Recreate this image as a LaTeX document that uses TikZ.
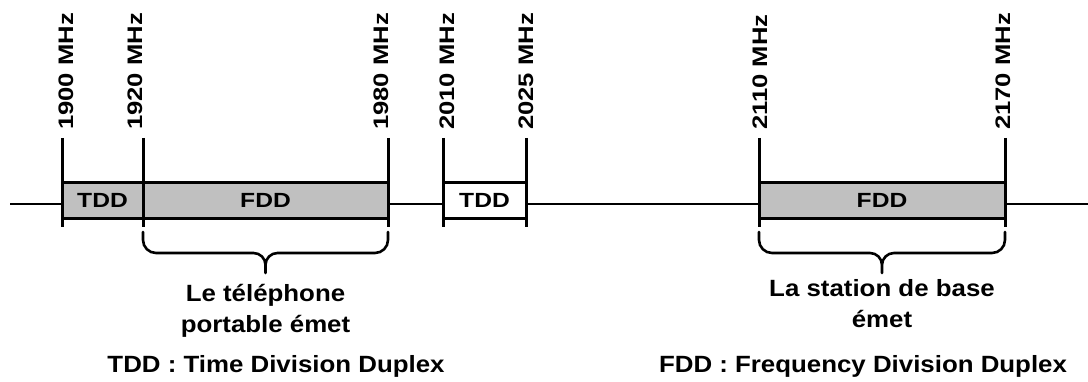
\documentclass[tikz,border=0pt]{standalone}
\usepackage{fontspec}
\newfontfamily\bandfont{Liberation Sans}[FakeStretch=1.1]
\newfontfamily\boxfont{Liberation Sans}[FakeStretch=1.2]
\newfontfamily\freqfont{Liberation Sans}[FakeStretch=1.22]
\usetikzlibrary{calc}
\definecolor{ink}{HTML}{000000}
\definecolor{bandgray}{HTML}{C0C0C0}

\begin{document}
\begin{tikzpicture}[x=1pt, y=1pt,
  band/.style={draw=ink, line width=3pt, inner sep=0, minimum height=36pt,
    font={\boxfont\bfseries\fontsize{20.5}{22}\selectfont}},
  freq/.style={anchor=west, rotate=90, inner sep=0,
    font={\freqfont\bfseries\fontsize{21}{22}\selectfont}},
  tick/.style={draw=ink, line width=3pt},
  brace/.style={draw=ink, line width=2.6pt, line cap=round, line join=round},
  note/.style={align=center, inner sep=0,
    font={\bandfont\bfseries\fontsize{23.5}{31}\selectfont}}]

\def\ly{177}     % y of the frequency axis
\def\by{181}     % centre of the band boxes
\def\tickt{243}  % tick tops
\def\tickb{154}  % tick bottoms
\def\laby{251}   % foot of the rotated labels

\useasboundingbox (0,0) rectangle (1088,381);

% ---- axis
\coordinate (axl) at (10,\ly);
\coordinate (axr) at (1088,\ly);
\draw[ink, line width=2pt] (axl) -- (axr);

% ---- bands
\foreach \xa/\xb/\name/\lbl/\fc in {%
  62/143/tdda/TDD/bandgray,
  143/388/fdda/FDD/bandgray,
  443/526/tddb/TDD/white,
  759/1005/fddb/FDD/bandgray%
}{
  \pgfmathsetmacro{\xm}{(\xa+\xb)/2}
  \pgfmathsetmacro{\bw}{\xb-\xa}
  \node[band, fill=\fc, minimum width=\bw pt] (\name) at (\xm,\by) {\lbl};
}

% ---- ticks and frequency labels
\foreach \f/\x/\dx in {1900/62/4, 1920/143/-8, 1980/388/-7, 2010/443/4,
                       2025/526/0, 2110/759/1, 2170/1005/-2}{
  \coordinate (t\f) at (\x,\tickt);
  \coordinate (b\f) at (\x,\tickb);
  \draw[tick] (t\f) -- (b\f);
  \node[freq] (f\f) at (\x+\dx,\laby) {\f\ MHz};
}

% ---- braces under the FDD bands
\foreach \xa/\xb/\name in {143/388/bra, 759/1005/brb}{
  \pgfmathsetmacro{\xm}{(\xa+\xb)/2}
  \coordinate (\name) at (\xm,108);
  \draw[brace] (\xa,149) -- (\xa,141)
    arc[start angle=180, end angle=270, radius=13] -- (\xm-12,128)
    arc[start angle=90, end angle=0, radius=12] -- (\name) -- (\xm,116)
    arc[start angle=180, end angle=90, radius=12] -- (\xb-13,128)
    arc[start angle=270, end angle=360, radius=13] -- (\xb,149);
}

\node[note, anchor=base] (mobile) at (265.5,48.5) {Le téléphone\\portable émet};
\node[note, anchor=base] (station) at (882,54) {La station de base\\émet};

% ---- key
\node[note, anchor=base] (keytdd) at (276,9) {TDD : Time Division Duplex};
\node[note, anchor=base] (keyfdd) at (863,9) {FDD : Frequency Division Duplex};

\end{tikzpicture}
\end{document}
